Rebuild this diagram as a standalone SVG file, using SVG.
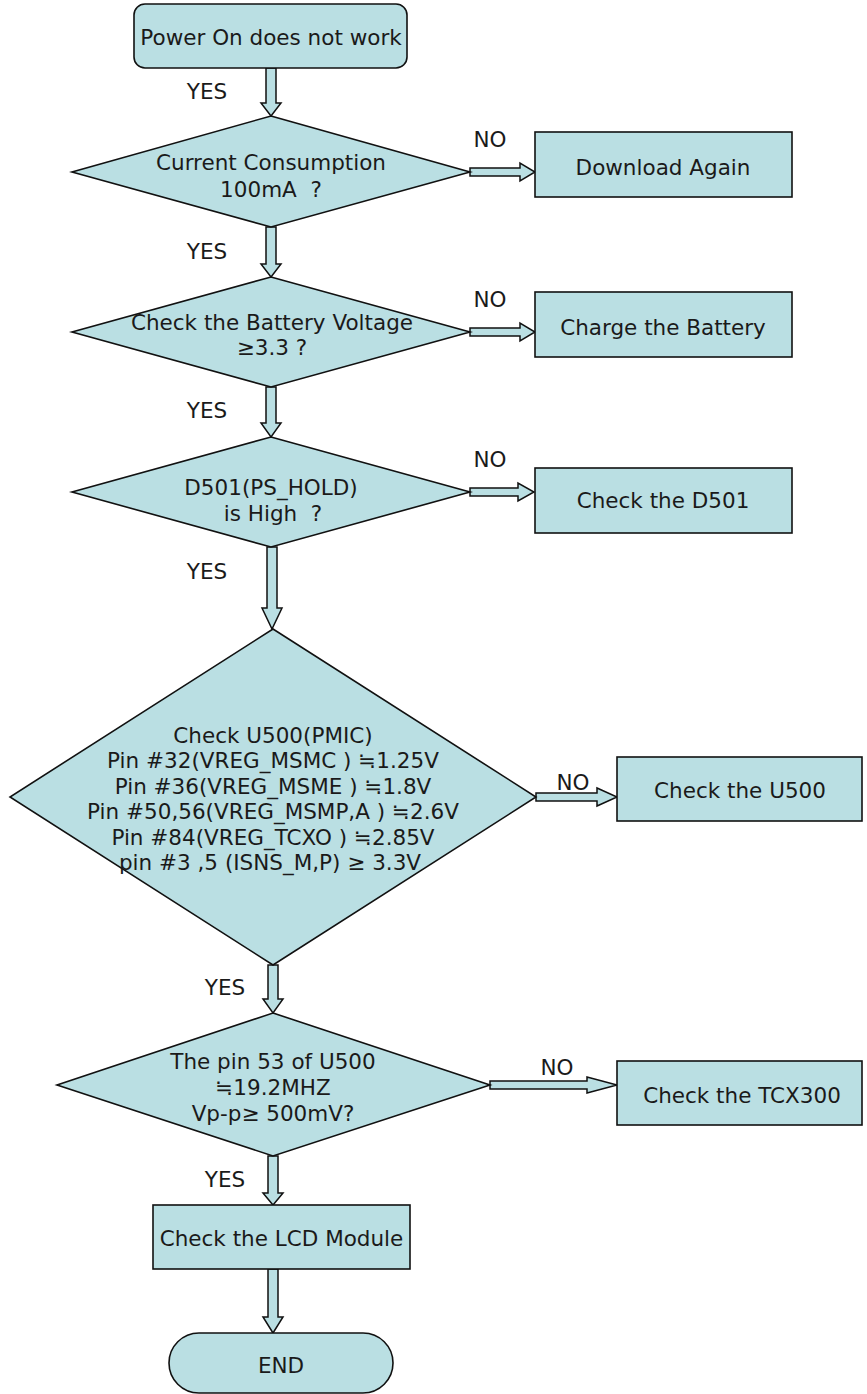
<svg xmlns="http://www.w3.org/2000/svg" width="867" height="1394" viewBox="0 0 867 1394">
<style>
.s{fill:#badfe3;stroke:#111;stroke-width:1.6}
.a{fill:#badfe3;stroke:#111;stroke-width:1.5;stroke-linejoin:miter}
text{font-family:"DejaVu Sans",Verdana,sans-serif;font-size:21.5px;fill:#1a1a1a;text-anchor:middle}
</style>
<rect width="867" height="1394" fill="#fff"/>
<g id="connectors">
<path class="a" d="M266,68 L276,68 L276,103 L281,103 L271,116 L261,103 L266,103 Z"/>
<path class="a" d="M266,227 L276,227 L276,264 L281,264 L271,277 L261,264 L266,264 Z"/>
<path class="a" d="M266,387 L276,387 L276,423 L281,423 L271,437 L261,423 L266,423 Z"/>
<path class="a" d="M267,547 L277,547 L277,608 L282,608 L272,629 L262,608 L267,608 Z"/>
<path class="a" d="M268,965 L278,965 L278,999 L283,999 L273,1013 L263,999 L268,999 Z"/>
<path class="a" d="M268,1156 L278,1156 L278,1193 L283,1193 L273,1205 L263,1193 L268,1193 Z"/>
<path class="a" d="M268,1269 L278,1269 L278,1317 L283,1317 L273,1333 L263,1317 L268,1317 Z"/>
<path class="a" d="M470,168 L520,168 L520,163 L535,172 L520,181 L520,176 L470,176 Z"/>
<path class="a" d="M470,328 L520,328 L520,323 L535,332 L520,341 L520,336 L470,336 Z"/>
<path class="a" d="M470,488 L518,488 L518,483 L534,492 L518,501 L518,496 L470,496 Z"/>
<path class="a" d="M536,793 L597,793 L597,788 L617,797 L597,806 L597,801 L536,801 Z"/>
<path class="a" d="M490,1081 L587,1081 L587,1077 L617,1085 L587,1093 L587,1089 L490,1089 Z"/>
<text x="207" y="99">YES</text>
<text x="207" y="259">YES</text>
<text x="207" y="418">YES</text>
<text x="207" y="579">YES</text>
<text x="225" y="995">YES</text>
<text x="225" y="1187">YES</text>
<text x="490" y="147">NO</text>
<text x="490" y="307">NO</text>
<text x="490" y="467">NO</text>
<text x="573" y="790">NO</text>
<text x="557" y="1075">NO</text>
</g>
<g id="start">
<rect class="s" x="134" y="4" width="273" height="64" rx="11"/>
<text x="271" y="44.5">Power On does not work</text>
</g>
<g id="d1">
<polygon class="s" points="271,116 470,172 271,227 72,172"/>
<text x="271" y="169.5">Current Consumption</text>
<text x="271" y="196.5" xml:space="preserve">100mA  ?</text>
</g>
<g id="download">
<rect class="s" x="535" y="132" width="257" height="65"/>
<text x="663" y="174.5">Download Again</text>
</g>
<g id="d2">
<polygon class="s" points="271,277 470,332 271,387 72,332"/>
<text x="272" y="329.5">Check the Battery Voltage</text>
<text x="272" y="354.5">≥3.3 ?</text>
</g>
<g id="charge">
<rect class="s" x="535" y="292" width="257" height="65"/>
<text x="663" y="334.5">Charge the Battery</text>
</g>
<g id="d3">
<polygon class="s" points="271,437 470,492 271,547 72,492"/>
<text x="271" y="495">D501(PS_HOLD)</text>
<text x="273" y="521" xml:space="preserve">is High  ?</text>
</g>
<g id="checkD501">
<rect class="s" x="535" y="468" width="257" height="65"/>
<text x="663" y="507.5">Check the D501</text>
</g>
<g id="d4">
<polygon class="s" points="273,629 536,797 273,965 10,797"/>
<text x="273" y="742.5">Check U500(PMIC)</text>
<text x="273" y="768">Pin #32(VREG_MSMC ) ≒1.25V</text>
<text x="273" y="793.5">Pin #36(VREG_MSME ) ≒1.8V</text>
<text x="273" y="819">Pin #50,56(VREG_MSMP,A ) ≒2.6V</text>
<text x="273" y="844.5">Pin #84(VREG_TCXO ) ≒2.85V</text>
<text x="270" y="870">pin #3 ,5 (ISNS_M,P) ≥ 3.3V</text>
</g>
<g id="checkU500">
<rect class="s" x="617" y="757" width="245" height="64"/>
<text x="740" y="797.5">Check the U500</text>
</g>
<g id="d5">
<polygon class="s" points="273,1013 490,1085 273,1156 57,1085"/>
<text x="273" y="1068.5">The pin 53 of U500</text>
<text x="273" y="1094.5">≒19.2MHZ</text>
<text x="273" y="1120.5">Vp-p≥ 500mV?</text>
</g>
<g id="checkTCX">
<rect class="s" x="617" y="1061" width="245" height="64"/>
<text x="742" y="1102.5">Check the TCX300</text>
</g>
<g id="lcd">
<rect class="s" x="153" y="1205" width="257" height="64"/>
<text x="281.5" y="1245.5">Check the LCD Module</text>
</g>
<g id="end">
<rect class="s" x="169" y="1333" width="224" height="60" rx="30"/>
<text x="281" y="1372.5">END</text>
</g>
</svg>
